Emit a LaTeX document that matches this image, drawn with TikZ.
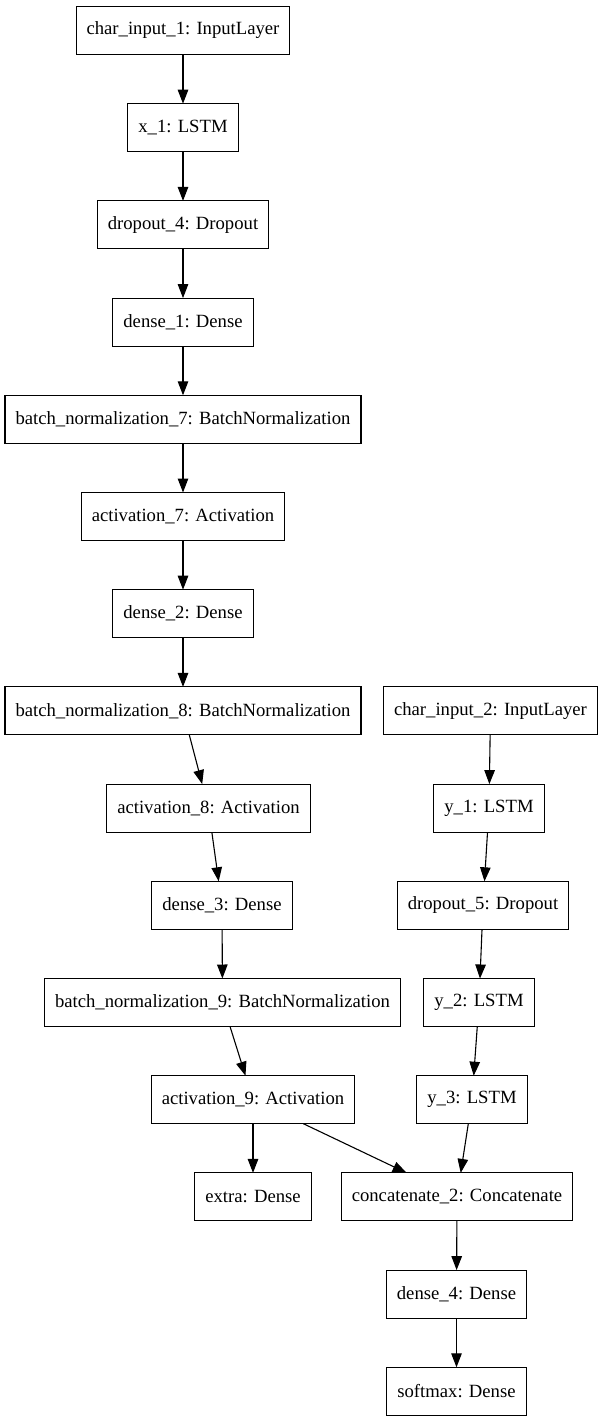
\documentclass[tikz,border=0pt]{standalone}
\usepackage{fontspec}
\setmainfont{Liberation Serif}
\usepackage{tikz}
\usetikzlibrary{arrows.meta,positioning}

\begin{document}
\begin{tikzpicture}[
    x=1pt, y=-1pt,
    layer/.style={rectangle, draw=black, line width=1.1pt, fill=white, minimum height=48pt, inner xsep=10.5pt, inner ysep=0pt, outer sep=0pt, font=\fontsize{18.67}{22}\selectfont},
    arrow/.style={-{Triangle[length=14pt, width=10.5pt]}, line width=1.1pt}
  ]
    \useasboundingbox (0,0) rectangle (602,1423);
    % left branch
    \node[layer] (input1) at (183,30.5) {char\_input\_1: InputLayer};
    \node[layer] (lstmx) at (183,127.7) {x\_1: LSTM};
    \node[layer] (drop4) at (183,224.9) {dropout\_4: Dropout};
    \node[layer] (dense1) at (183,322.1) {dense\_1: Dense};
    \node[layer] (bn7) at (183,419.3) {batch\_normalization\_7: BatchNormalization};
    \node[layer] (act7) at (183,516.5) {activation\_7: Activation};
    \node[layer] (dense2) at (183,613.7) {dense\_2: Dense};
    \node[layer] (bn8) at (183,710.9) {batch\_normalization\_8: BatchNormalization};
    \node[layer] (act8) at (208.5,808.1) {activation\_8: Activation};
    \node[layer] (dense3) at (222,905.3) {dense\_3: Dense};
    \node[layer] (bn9) at (222.5,1002.5) {batch\_normalization\_9: BatchNormalization};
    \node[layer] (act9) at (253,1099.7) {activation\_9: Activation};
    \node[layer] (extra) at (253,1196.9) {extra: Dense};
    % right branch
    \node[layer] (input2) at (490.5,710.9) {char\_input\_2: InputLayer};
    \node[layer] (lstmy1) at (489,808.1) {y\_1: LSTM};
    \node[layer] (drop5) at (483,905.3) {dropout\_5: Dropout};
    \node[layer] (lstmy2) at (479,1002.5) {y\_2: LSTM};
    \node[layer] (lstmy3) at (472,1099.7) {y\_3: LSTM};
    % merge
    \node[layer] (concat) at (457,1196.9) {concatenate\_2: Concatenate};
    \node[layer] (dense4) at (456.5,1294.1) {dense\_4: Dense};
    \node[layer] (softmax) at (456.5,1391.3) {softmax: Dense};

    \draw[arrow] (input1) -- (lstmx);
    \draw[arrow] (lstmx) -- (drop4);
    \draw[arrow] (drop4) -- (dense1);
    \draw[arrow] (dense1) -- (bn7);
    \draw[arrow] (bn7) -- (act7);
    \draw[arrow] (act7) -- (dense2);
    \draw[arrow] (dense2) -- (bn8);
    \draw[arrow] (bn8) -- (act8);
    \draw[arrow] (act8) -- (dense3);
    \draw[arrow] (dense3) -- (bn9);
    \draw[arrow] (bn9) -- (act9);
    \draw[arrow] (act9) -- (extra);
    \draw[arrow] (input2) -- (lstmy1);
    \draw[arrow] (lstmy1) -- (drop5);
    \draw[arrow] (drop5) -- (lstmy2);
    \draw[arrow] (lstmy2) -- (lstmy3);
    \draw[arrow] (act9) -- (concat);
    \draw[arrow] (lstmy3) -- (concat);
    \draw[arrow] (concat) -- (dense4);
    \draw[arrow] (dense4) -- (softmax);
  \end{tikzpicture}
\end{document}
